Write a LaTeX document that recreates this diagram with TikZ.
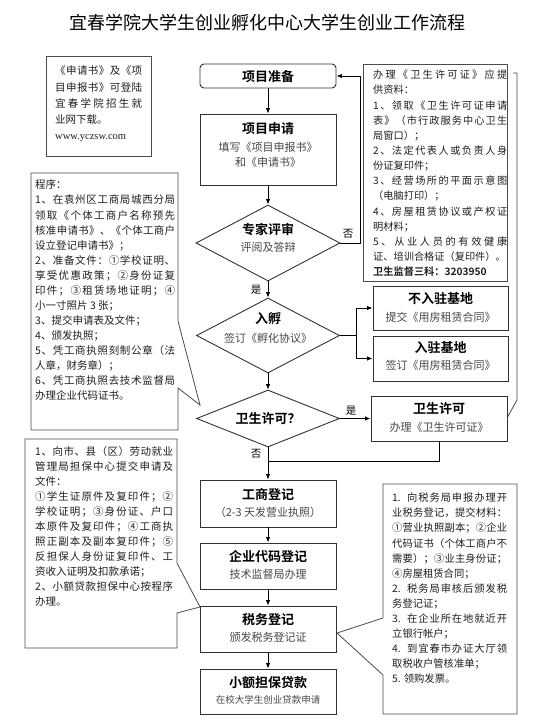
\documentclass[tikz,border=0pt]{standalone}
\usepackage{fontspec}
\setmainfont{Noto Sans CJK SC}[BoldFont={Noto Sans CJK SC Bold}]
\newfontfamily\latinserif{Liberation Serif}
\usetikzlibrary{arrows.meta,shapes.geometric}
% stretchable (unbreakable) glue between CJK characters, for justified note lines
\newXeTeXintercharclass\cjkcls
\newcount\cjkc
\def\setcjkrange#1#2{\cjkc=#1\relax\loop\XeTeXcharclass\cjkc=\cjkcls\advance\cjkc by 1\relax\ifnum\cjkc<#2\repeat}
\setcjkrange{"4E00}{"A000}
\setcjkrange{"3000}{"3040}
\setcjkrange{"FF00}{"FFF0}
\setcjkrange{"2460}{"2500}
\newcommand\cjkgl{\nobreak\hskip 0pt plus 1pt\relax}
\XeTeXinterchartoks \cjkcls \cjkcls = {\cjkgl}
\XeTeXinterchartoks 0 \cjkcls = {\cjkgl}
\XeTeXinterchartoks \cjkcls 0 = {\cjkgl}
\XeTeXinterchartokenstate=1
\tolerance=10000
\hbadness=10000
\hfuzz=20pt
\newcommand\notesize[2]{\fontsize{#1}{#2}\selectfont\parindent=0pt\relax}
\begin{document}
\begin{tikzpicture}[x=1pt,y=-1pt,
  box/.style={draw=black!80, line width=0.9pt, fill=white, minimum width=136pt, inner sep=0pt},
  dec/.style={diamond, draw=black!80, line width=0.9pt, fill=white, inner sep=0pt, aspect=1.9},
  ttl/.style={font=\fontsize{13}{15}\selectfont\bfseries, inner sep=0pt},
  subt/.style={font=\fontsize{11}{13}\selectfont, text=black!72, inner sep=0pt},
  arr/.style={line width=0.9pt, -{Latex[length=5.5pt,width=4.5pt]}},
  conn/.style={line width=0.9pt},
  lbl/.style={font=\fontsize{10.5}{12}\selectfont, inner sep=0pt},
  noteline/.style={draw=black!70, line width=0.8pt},
  notetext/.style={anchor=north west, inner sep=0pt, align=justify, text=black!88},
]
\useasboundingbox (0,0) rectangle (540,723);
\fill[white] (0,0) rectangle (540,723);

% title
\node[font=\fontsize{18}{22}\selectfont, inner sep=0pt] (title) at (267.5,23) {宜春学院大学生创业孵化中心大学生创业工作流程};

% ---------- side notes (outlines) ----------
\draw[noteline, fill=white] (46,56) rectangle (151,156);
\draw[noteline, fill=white] (363,64) rectangle (507,281);
\draw[noteline] (513,73) -- (517,73) -- (517,400) -- (507,418);
\draw[noteline, fill=white] (31,173) -- (178,173) -- (178,321) -- (200,405) -- (178,388) -- (178,430) -- (31,430) -- cycle;
\draw[noteline, fill=white] (25,439) -- (177,439) -- (177,563) -- (200,607) -- (177,613) -- (177,648) -- (25,648) -- cycle;
\draw[noteline, fill=white] (383,484) -- (517,484) -- (517,714) -- (383,714) -- (383,675) -- (337,633) -- (383,618) -- cycle;

% ---------- side notes (texts) ----------
\node[notetext, text width=87pt, font={\notesize{10.5}{16.3}}] (noteA) at (55,65.7) {《申请书》及《项\linebreak 目申报书》可登陆\linebreak 宜春学院招生就\linebreak 业网下载。\\{\latinserif www.yczsw.com}};

\node[notetext, text width=134pt, font={\notesize{10.2}{15.15}}] (noteB) at (373,69.9) {办理《卫生许可证》应提\linebreak 供资料：\\1、领取《卫生许可证申请\linebreak 表》（市行政服务中心卫生\linebreak 局窗口）；\\2、法定代表人或负责人身\linebreak 份证复印件；\\3、经营场所的平面示意图\linebreak （电脑打印）；\\4、房屋租赁协议或产权证\linebreak 明材料；\\5、从业人员的有效健康\linebreak 证、培训合格证（复印件）。\\{\bfseries 卫生监督三科：3203950}};

\node[notetext, text width=140pt, font={\notesize{10.5}{15.07}}] (noteC) at (35,179.8) {程序：\\1、在袁州区工商局城西分局\linebreak 领取《个体工商户名称预先\linebreak 核准申请书》、《个体工商户\linebreak 设立登记申请书》；\\2、准备文件：①学校证明、\linebreak 享受优惠政策；②身份证复\linebreak 印件；③租赁场地证明；④\linebreak 小一寸照片 3 张；\\3、提交申请表及文件；\\4、颁发执照；\\5、凭工商执照刻制公章（法\linebreak 人章，财务章）；\\6、凭工商执照去技术监督局\linebreak 办理企业代码证书。};

\node[notetext, text width=138pt, font={\notesize{10.5}{15}}] (noteD) at (35,446.8) {1、向市、县（区）劳动就业\linebreak 管理局担保中心提交申请及\linebreak 文件：\\①学生证原件及复印件；②\linebreak 学校证明；③身份证、户口\linebreak 本原件及复印件；④工商执\linebreak 照正副本及副本复印件；⑤\linebreak 反担保人身份证复印件、工\linebreak 资收入证明及扣款承诺；\\2、小额贷款担保中心按程序\linebreak 办理。};

\node[notetext, text width=115pt, font={\notesize{10.3}{15.08}}] (noteE) at (392,492.9) {1. 向税务局申报办理开\linebreak 业税务登记，提交材料：\linebreak ①营业执照副本；②企业\linebreak 代码证书（个体工商户不\linebreak 需要）；③业主身份证；\linebreak ④房屋租赁合同；\\2. 税务局审核后颁发税\linebreak 务登记证；\\3. 在企业所在地就近开\linebreak 立银行帐户；\\4. 到宜春市办证大厅领\linebreak 取税收户管核准单；\\5. 领购发票。};

% ---------- main flow ----------
\node[box, rounded corners=4pt, minimum height=24pt] (prep) at (268,76) {};
\node[ttl] (prepT) at (268,76.5) {项目准备};

\node[box, minimum height=71pt] (apply) at (268,149.5) {};
\node[ttl] (applyT) at (268,129) {项目申请};
\node[subt] (applyS1) at (268,147) {填写《项目申报书》};
\node[subt] (applyS2) at (268,162) {和《申请书》};

\node[dec, minimum width=144pt, minimum height=76pt] (review) at (268,243) {};
\node[ttl] (reviewT) at (268,230) {专家评审};
\node[subt] (reviewS) at (268,247) {评阅及答辩};

\node[dec, minimum width=143pt, minimum height=75pt] (incub) at (268,335.5) {};
\node[ttl] (incubT) at (268,319) {入孵};
\node[subt] (incubS) at (268,338) {签订《孵化协议》};

\node[box, minimum width=135pt, minimum height=44pt] (bld1) at (440.5,308) {};
\node[ttl] (bld1T) at (440.5,299) {不入驻基地};
\node[subt] (bld1S) at (440.5,317) {提交《用房租赁合同》};

\node[box, minimum width=135pt, minimum height=45pt] (bld2) at (440.5,358.5) {};
\node[ttl] (bld2T) at (440.5,348) {入驻基地};
\node[subt] (bld2S) at (440.5,365) {签订《用房租赁合同》};

\node[dec, minimum width=143pt, minimum height=57pt] (hyg) at (268,418.5) {};
\node[ttl] (hygT) at (268,418.5) {卫生许可？};

\node[box, minimum width=136pt, minimum height=45pt] (hygbox) at (439,418.5) {};
\node[ttl] (hygboxT) at (439,409) {卫生许可};
\node[subt] (hygboxS) at (439,427) {办理《卫生许可证》};

\node[box, minimum height=47pt] (biz) at (268,503.5) {};
\node[ttl] (bizT) at (268,495) {工商登记};
\node[subt] (bizS) at (268,512) {（2-3 天发营业执照）};

\node[box, minimum height=46pt] (code) at (268,566) {};
\node[ttl] (codeT) at (268,557) {企业代码登记};
\node[subt] (codeS) at (268,574) {技术监督局办理};

\node[box, minimum height=46pt] (tax) at (268,629) {};
\node[ttl] (taxT) at (268,619.5) {税务登记};
\node[subt] (taxS) at (268,637) {颁发税务登记证};

\node[box, minimum height=45pt] (loan) at (268,691.5) {};
\node[ttl] (loanT) at (268,683) {小额担保贷款};
\node[subt, font=\fontsize{9.5}{11}\selectfont] (loanS) at (268,700) {在校大学生创业贷款申请};

% ---------- connectors ----------
\draw[arr] (prep.south) -- (apply.north);
\draw[arr] (apply.south) -- (review.north);
\draw[arr] (review.east) -- ++(20,0) |- (prep.east);
\node[lbl] (no1) at (348,234) {否};
\draw[arr] (review.south) -- (incub.north);
\node[lbl] (yes1) at (256,290) {是};
\coordinate (split) at (356,335.5);
\draw[conn] (incub.east) -- (split);
\draw[arr] (split) |- (bld1.west);
\draw[arr] (split) |- (bld2.west);
\draw[arr] (incub.south) -- (hyg.north);
\draw[arr] (hyg.east) -- (hygbox.west);
\node[lbl] (yes2) at (351,411) {是};
\coordinate (join) at (268,461);
\draw[conn] (hygbox.south) |- (join);
\draw[arr] (hyg.south) -- (biz.north);
\node[lbl] (no2) at (256,454) {否};
\draw[arr] (biz.south) -- (code.north);
\draw[arr] (code.south) -- (tax.north);
\draw[arr] (tax.south) -- (loan.north);
\end{tikzpicture}
\end{document}
